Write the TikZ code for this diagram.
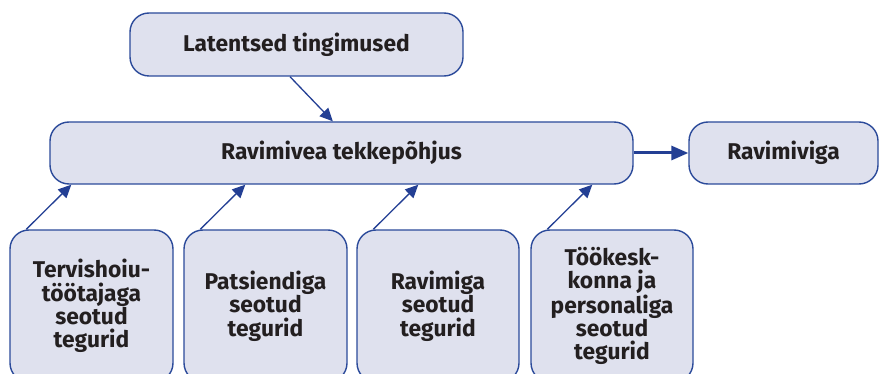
\documentclass[tikz,border=0pt]{standalone}
\usepackage{fontspec}
\setmainfont{Fira Sans}
\usetikzlibrary{arrows.meta,calc}
\definecolor{boxfill}{HTML}{DFE1EE}
\definecolor{boxline}{HTML}{2B4A9A}
\definecolor{arrowc}{HTML}{233F94}
\definecolor{txt}{HTML}{231F20}
\begin{document}
\begin{tikzpicture}[x=1pt,y=-1pt,
  box/.style={draw=boxline,fill=boxfill,line width=1.4pt,rounded corners=19pt,
    inner sep=0pt,text=txt,align=center,
    font=\fontsize{22.8}{23.4}\selectfont\bfseries},
  conn/.style={draw=arrowc,line width=1.3pt,-{Triangle[length=13pt,width=12pt]}},
  thick conn/.style={draw=arrowc,line width=3pt,-{Triangle[length=17pt,width=14pt]}}]
\useasboundingbox (0,0) rectangle (880,374);
\node[box,minimum width=333pt,minimum height=63pt] (lat) at (296.5,44.5) {Latentsed tingimused};
\node[box,minimum width=583pt,minimum height=62pt] (main) at (341.5,153) {Ravimivea tekkepõhjus};
\node[box,minimum width=189pt,minimum height=62pt] (err) at (783.5,153) {Ravimiviga};
\node[box,minimum width=163pt,minimum height=152pt] (b1) at (91.5,306) {Tervishoiu-\\töötajaga\\seotud\\tegurid};
\node[box,minimum width=163pt,minimum height=152pt] (b2) at (265.5,306) {Patsiendiga\\seotud\\tegurid};
\node[box,minimum width=162pt,minimum height=152pt] (b3) at (438,306) {Ravimiga\\seotud\\tegurid};
\node[box,minimum width=162pt,minimum height=152pt] (b4) at (612,306) {Töökesk-\\konna ja\\personaliga\\seotud\\tegurid};
\draw[conn] ([xshift=-6.5pt]lat.south) -- ($(main.north west)+(283.5,0)$);
\draw[thick conn] (main.east) -- (err.west);
\foreach \b in {b1,b2,b3,b4}{
  \draw[conn] ($(\b.north west)+(17,0)$) -- ($(\b.north west |- main.south)+(62,0)$);
}
\end{tikzpicture}
\end{document}
